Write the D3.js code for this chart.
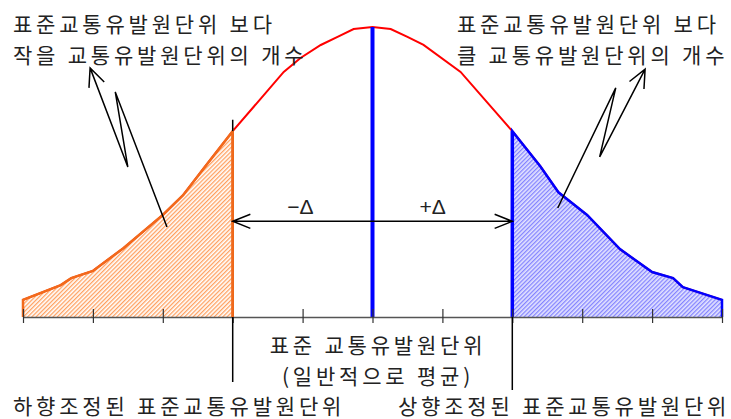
<!DOCTYPE html>
<html>
<head>
<meta charset="utf-8">
<script src="https://cdn.jsdelivr.net/npm/d3@7"></script>
<style>
  body { margin: 0; background: #fff; }
  text { font-family: "Noto Sans CJK KR", sans-serif; fill: #222; }
</style>
</head>
<body>
<svg id="chart" width="731" height="419"></svg>
<script>
// distribution curve (x in units of tick steps, y as relative frequency)
var curveX = [-5, -4.46, -4.31, -4, -3.56, -3, -2.71, -2.41, -2, -1.27, -1.03, -0.74, -0.5, -0.27, 0,
              0.26, 0.5, 0.73, 1.26, 2, 2.4, 2.66, 3.07, 3.54, 4, 4.3, 4.44, 5];
var curveY = [5.9, 11, 13.4, 15.9, 23.8, 35.2, 42, 51.4, 64.1, 84.5, 89.3, 93.8, 96.6, 99.3, 100,
              99.3, 96.6, 93.8, 84.5, 64.1, 52, 43, 35.2, 23.4, 15.5, 13.4, 10.3, 5.9];
var tickValues = [-5, -4, -3, -2, -1, 0, 1, 2, 3, 4, 5];
var lowerCut = -2;
var upperCut = 2;
var deltaLevel = 33;

// annotation zigzags (tip first)
var leftPointer = [[-4.04, 85.9], [-3.5, 51.7], [-3.68, 77.6], [-2.94, 31]];
var rightPointer = [[3.9, 85.5], [3.25, 55.2], [3.48, 79], [2.65, 37.6]];

var topLeftLines = ["표준교통유발원단위 보다", "작을 교통유발원단위의 개수"];
var topRightLines = ["표준교통유발원단위 보다", "클 교통유발원단위의 개수"];
var centerLines = ["표준 교통유발원단위", "(일반적으로 평균)"];
var lowerLabel = "하향조정된 표준교통유발원단위";
var upperLabel = "상향조정된 표준교통유발원단위";

var svg = d3.select("#chart");
var x = d3.scaleLinear().domain([-5, 5]).range([23, 722]);
var y = d3.scaleLinear().domain([0, 100]).range([317, 27]);

var points = curveX.map(function(d, i) { return {x: d, y: curveY[i]}; });
var leftPts = points.filter(function(d) { return d.x <= lowerCut; });
var rightPts = points.filter(function(d) { return d.x >= upperCut; });

// hatch patterns
var defs = svg.append("defs");
defs.append("pattern").attr("id", "hatchOrange")
    .attr("width", 3).attr("height", 3)
    .attr("patternUnits", "userSpaceOnUse")
    .attr("patternTransform", "rotate(45)")
  .append("rect").attr("width", 1.3).attr("height", 3).attr("fill", "#ffa060");

var blue = defs.append("pattern").attr("id", "hatchBlue")
    .attr("width", 3).attr("height", 3)
    .attr("patternUnits", "userSpaceOnUse")
    .attr("patternTransform", "rotate(45)");
blue.append("rect").attr("width", 3).attr("height", 3).attr("fill", "#e4e4ff");
blue.append("rect").attr("width", 1.3).attr("height", 3).attr("fill", "#8484ff");

var area = d3.area()
    .x(function(d) { return x(d.x); })
    .y0(y(0))
    .y1(function(d) { return y(d.y); });

var line = d3.line()
    .x(function(d) { return x(d.x); })
    .y(function(d) { return y(d.y); });

svg.append("path").datum(leftPts).attr("d", area).attr("fill", "url(#hatchOrange)");
svg.append("path").datum(rightPts).attr("d", area).attr("fill", "url(#hatchBlue)");

// the main curve
svg.append("path").datum(points).attr("d", line)
    .attr("fill", "none").attr("stroke", "#ff0000").attr("stroke-width", 2);

// outlines of the tails, open along the baseline
function outline(pts) {
  var full = [{x: pts[0].x, y: 0}].concat(pts).concat([{x: pts[pts.length - 1].x, y: 0}]);
  return line(full);
}
svg.append("path").attr("d", outline(leftPts))
    .attr("fill", "none").attr("stroke", "#f26a1b").attr("stroke-width", 2.5);
svg.append("path").attr("d", outline(rightPts))
    .attr("fill", "none").attr("stroke", "#0000ff").attr("stroke-width", 2.5);
svg.append("line")
    .attr("x1", x(upperCut)).attr("x2", x(upperCut))
    .attr("y1", y(0)).attr("y2", y(d3.max(rightPts, function(d) { return d.y; })))
    .attr("stroke", "#0000ff").attr("stroke-width", 3.5);

// mean line
svg.append("line")
    .attr("x1", x(0)).attr("x2", x(0))
    .attr("y1", y(0)).attr("y2", y(d3.max(curveY)))
    .attr("stroke", "#0000ff").attr("stroke-width", 4);

// axis
var axis = svg.append("g")
    .attr("transform", "translate(0," + y(0) + ")")
    .call(d3.axisBottom(x).tickValues(tickValues).tickFormat("").tickSize(6).tickSizeOuter(0));
axis.select(".domain").attr("stroke", "#555").attr("stroke-width", 1.5);
axis.selectAll(".tick line").attr("y1", -8).attr("stroke", "#333").attr("stroke-width", 1.2);

// black guide lines for the adjusted values
svg.append("line")
    .attr("x1", x(lowerCut)).attr("x2", x(lowerCut))
    .attr("y1", y(68)).attr("y2", 382)
    .attr("stroke", "#000").attr("stroke-width", 1.5);
svg.append("line")
    .attr("x1", x(upperCut)).attr("x2", x(upperCut))
    .attr("y1", y(0)).attr("y2", 390)
    .attr("stroke", "#000").attr("stroke-width", 1.5);
// redraw the orange edge over the black one
svg.append("line")
    .attr("x1", x(lowerCut)).attr("x2", x(lowerCut))
    .attr("y1", y(0)).attr("y2", y(leftPts[leftPts.length - 1].y))
    .attr("stroke", "#f26a1b").attr("stroke-width", 2.5);

// open arrowhead at p, pointing away from q
function head(p, q, len, ang) {
  var a = Math.atan2(q[1] - p[1], q[0] - p[0]);
  var b1 = [p[0] + len * Math.cos(a + ang), p[1] + len * Math.sin(a + ang)];
  var b2 = [p[0] + len * Math.cos(a - ang), p[1] + len * Math.sin(a - ang)];
  return "M" + b1 + "L" + p + "L" + b2;
}

// +/- delta arrow
var ay = y(deltaLevel);
var pL = [x(lowerCut), ay], pR = [x(upperCut), ay];
svg.append("path")
    .attr("d", "M" + pL + "L" + pR + head(pL, pR, 19, 0.38) + head(pR, pL, 19, 0.38))
    .attr("fill", "none").attr("stroke", "#000").attr("stroke-width", 1.5);

svg.append("text").attr("x", x(-1.03)).attr("y", y(deltaLevel) - 15)
    .attr("text-anchor", "middle").attr("dominant-baseline", "central")
    .style("font-family", "Arial, 'Liberation Sans', sans-serif").style("font-size", "21px")
    .text("\u2212\u0394");
svg.append("text").attr("x", x(0.86)).attr("y", y(deltaLevel) - 15)
    .attr("text-anchor", "middle").attr("dominant-baseline", "central")
    .style("font-family", "Arial, 'Liberation Sans', sans-serif").style("font-size", "21px")
    .text("+\u0394");

// zigzag pointers to the tail labels
[leftPointer, rightPointer].forEach(function(pts) {
  var px = pts.map(function(d) { return [x(d[0]), y(d[1])]; });
  svg.append("path")
      .attr("d", d3.line()(px) + head(px[0], px[1], 20, 0.42))
      .attr("fill", "none").attr("stroke", "#000").attr("stroke-width", 1.5);
});

// labels (multi-line blocks as one text with tspans)
function addLines(lines, tx, ty, anchor) {
  var t = svg.append("text")
      .attr("text-anchor", anchor)
      .style("font-size", "21px")
      .style("letter-spacing", "3.8px");
  lines.forEach(function(s, i) {
    t.append("tspan")
        .attr("x", tx).attr("y", ty + i * 30.5)
        .attr("dominant-baseline", "central")
        .text(s);
  });
}
addLines(topLeftLines, 13, 23, "start");
addLines(topRightLines, 457, 23, "start");
addLines(centerLines, 378, 344, "middle");
addLines([lowerLabel], 13, 405, "start");
addLines([upperLabel], 398, 405, "start");
</script>
</body>
</html>
